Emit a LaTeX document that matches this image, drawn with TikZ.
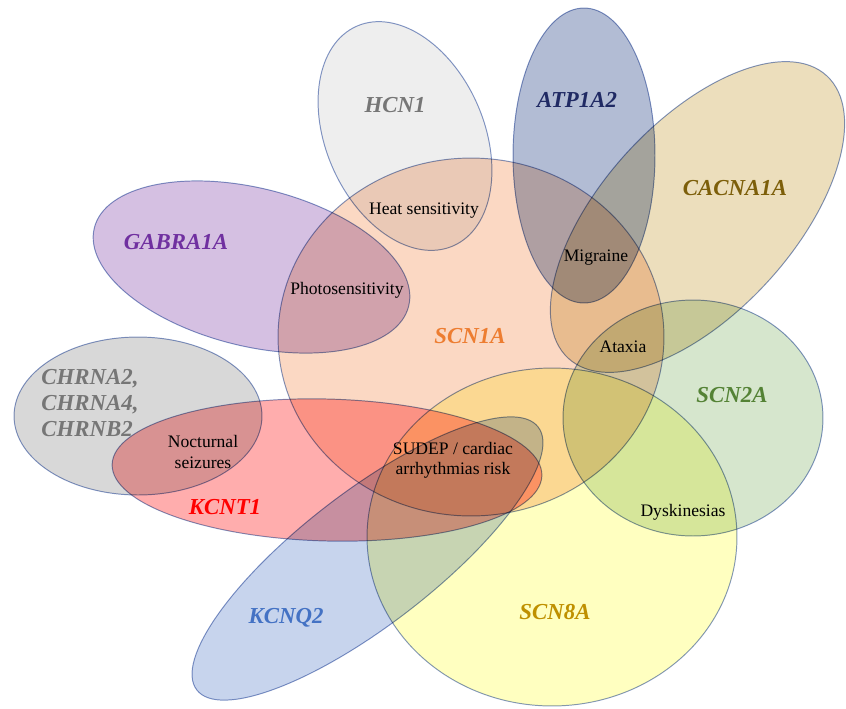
\documentclass[tikz,border=0pt]{standalone}
\usepackage{fontspec}
\setmainfont{Liberation Serif}
\usetikzlibrary{shapes.geometric}

\definecolor{edgeblue}{RGB}{132,152,200}
% fills (multiplied onto white)
\definecolor{fhcn}{RGB}{238,238,238}
\definecolor{fatp}{RGB}{178,188,212}
\definecolor{fcacna}{RGB}{236,222,188}
\definecolor{fgabra}{RGB}{213,192,226}
\definecolor{fscnone}{RGB}{251,216,195}
\definecolor{fchrna}{RGB}{216,216,216}
\definecolor{fkcnt}{RGB}{255,173,173}
\definecolor{fkcnq}{RGB}{199,212,237}
\definecolor{fscneight}{RGB}{255,255,192}
\definecolor{fscntwo}{RGB}{214,230,205}
% label colours
\definecolor{tgray}{RGB}{118,118,118}
\definecolor{tatp}{RGB}{32,42,100}
\definecolor{tcacna}{RGB}{125,95,10}
\definecolor{tgabra}{RGB}{112,48,160}
\definecolor{tscnone}{RGB}{237,125,49}
\definecolor{tkcnt}{RGB}{255,0,0}
\definecolor{tkcnq}{RGB}{68,114,196}
\definecolor{tscneight}{RGB}{191,144,0}
\definecolor{tscntwo}{RGB}{84,130,53}

\begin{document}
\begin{tikzpicture}[x=0.02cm, y=-0.02cm,
    blob/.style={ellipse, draw=edgeblue, line width=0.55pt, inner sep=0pt},
    gene/.style={font=\fontsize{13}{15}\selectfont\bfseries\itshape},
    overlap/.style={font=\fontsize{10}{11.5}\selectfont, align=center}]
	\useasboundingbox (0,0) rectangle (846,708);
	\begin{scope}[blend mode=multiply]
		\foreach \n/\x/\y/\w/\h/\ang/\col in {
			scnone/471/337/7.72/7.16/0/fscnone,
			hcn/405/136/4.8/3.16/-66.3/fhcn,
			atp/584/155.5/2.84/5.9/0/fatp,
			cacna/697.5/217/7.66/3.82/47.6/fcacna,
			gabra/251.5/267/6.48/3.16/-14/fgabra,
			chrna/138/416/4.96/3.16/0/fchrna,
			kcnt/327/470/8.6/2.84/-1.5/fkcnt,
			kcnq/367.5/558.5/8.62/2.66/37.6/fkcnq,
			scneight/552/537/7.4/6.76/0/fscneight,
			scntwo/693/418/5.2/4.72/0/fscntwo} {
			\node[blob, fill=\col, minimum width=\w cm, minimum height=\h cm, rotate=\ang] (\n) at (\x,\y) {};
		}
	\end{scope}
	% gene names
	\node[gene, text=tgray] (hcnlab) at (395,105) {HCN1};
	\node[gene, text=tatp] (atplab) at (577,100) {ATP1A2};
	\node[gene, text=tcacna] (cacnalab) at (735,188) {CACNA1A};
	\node[gene, text=tgabra] (gabralab) at (176,242) {GABRA1A};
	\node[gene, text=tscnone] (scnonelab) at (470,336) {SCN1A};
	\node[gene, text=tgray, align=left] (chrnalab) at (90,403) {CHRNA2,\\CHRNA4,\\CHRNB2};
	\node[gene, text=tscntwo] (scntwolab) at (732,395) {SCN2A};
	\node[gene, text=tkcnt] (kcntlab) at (225,507) {KCNT1};
	\node[gene, text=tkcnq] (kcnqlab) at (286,618) {KCNQ2};
	\node[gene, text=tscneight] (scneightlab) at (555,612) {SCN8A};
	% shared phenotypes
	\node[overlap] (heat) at (424,211) {Heat sensitivity};
	\node[overlap] (photo) at (347,290) {Photosensitivity};
	\node[overlap] (migraine) at (596,258) {Migraine};
	\node[overlap] (ataxia) at (623,347) {Ataxia};
	\node[overlap] (nocturnal) at (203,452) {Nocturnal\\seizures};
	\node[overlap] (sudep) at (453,460) {SUDEP / cardiac\\arrhythmias risk};
	\node[overlap] (dysk) at (683,512) {Dyskinesias};
\end{tikzpicture}
\end{document}
